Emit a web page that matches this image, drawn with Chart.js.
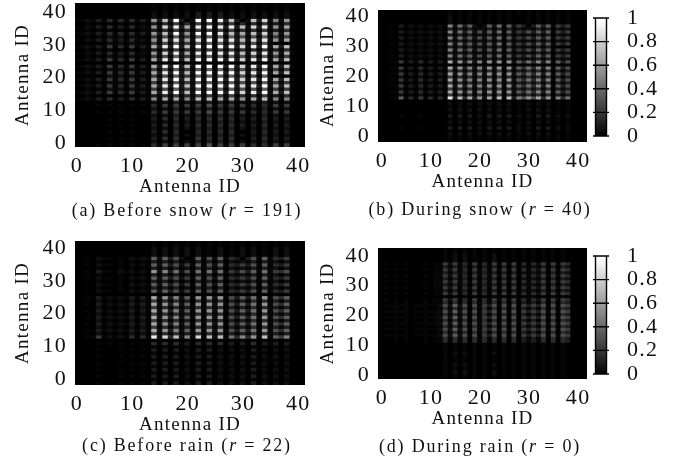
<!DOCTYPE html>
<html>
<head>
  <title>Antenna correlation heatmaps</title>
  <style>
    body {
      margin: 0;
      background: #ffffff;
    }
    canvas {
      position: absolute;
    }
    canvas.heat {
      filter: blur(0.4px);
    }
    .caption {
      position: absolute;
      transform: translate(-50%, -50%);
      white-space: nowrap;
      font-family: "Liberation Serif", serif;
      font-size: 18px;
      letter-spacing: 1.8px;
      color: #111111;
    }
  </style>
</head>
<body>
  <canvas id="panelA" class="heat"></canvas>
  <canvas id="panelB" class="heat"></canvas>
  <canvas id="panelC" class="heat"></canvas>
  <canvas id="panelD" class="heat"></canvas>
  <canvas id="barB"></canvas>
  <canvas id="barD"></canvas>
  <div class="caption" style="left:187px;top:210px">(a) Before snow (<i>r</i> = 191)</div>
  <div class="caption" style="left:480px;top:209px">(b) During snow (<i>r</i> = 40)</div>
  <div class="caption" style="left:187px;top:445px">(c) Before rain (<i>r</i> = 22)</div>
  <div class="caption" style="left:480px;top:446px">(d) During rain (<i>r</i> = 0)</div>

  <script src="https://cdn.jsdelivr.net/npm/chart.js"></script>
  <script>
    // Each string is one row of cells, one hex digit per antenna column, read through cellLevels
    const cellLevels = [0, 0.025, 0.06, 0.11, 0.17, 0.23, 0.3, 0.37, 0.44, 0.51, 0.58, 0.66, 0.74, 0.83, 0.92, 1];

    const aBlack = "000000000000001010101010101010101010101000";
    const aTop = "000000000000002020202030303020202020202000";
    const aB0 = "11213151415131b3e3f3c2f2f1f3f3d2e3f2b3c100";
    const aB1 = "11213141414131a3c3f3a2f2f1e3c3b2c3d292a100";
    const aB1n = "11213141414131a3c3f302f2f1e3c302c3d292a100";
    const aB2 = "10213141314121a2d3e3b2e2f1e3e3c2d3e2a2b100";
    const aB3 = "1121314131413191b2b292c2c1b2b2a1b2c1919100";
    const aD0 = "001010212021105161725171717172616171515000";
    const aD1 = "001010101010103141514151515151414151314000";
    const aD2 = "000000212021105161725171717172616171000000";
    const aL0 = "000010101010104151515151615151514141515000";
    const aL1 = "000000000000002020302030303030202030202000";
    const aL2 = "000000101010003040403040404040303040303000";
    const aL3 = "000000101010003040400040404040003040303000";
    const rowsBeforeSnow = [
      aBlack, aBlack, aBlack, aTop, aTop, aB1n, aD1, aB2, aD1, aB1, aD0,
      aB2, aD2, aB0, aD1, aB2, aD0, aB0, aBlack, aB0, aD0, aB0,
      aD2, aB0, aD0, aB0, aD0, aB0, aD1, aB3, aL1, aL0, aL1,
      aL0, aL1, aL2, aL1, aL2, aL1, aL3, aL1, aL3, aL1, aL0
    ];

    const bFaint = "000000000000001010101010101010101010101000";
    const bTop = "000000000000002010101010101000101010101000";
    const bB0 = "00117141514141e3c4b3a2b2c1c396a6b4a1948000";
    const bB1 = "00115131413131b2a39292a2a1a274849391736000";
    const bB2 = "001031212121219283726272817253637371535000";
    const bB2n = "001031212121219283720272817253037371535000";
    const bD0 = "000020102010105141414141504132424140313000";
    const bD1 = "000010101010103131312131303121213130212000";
    const bD2 = "000010101010103131312131303121213130000000";
    const bL0 = "000000000000002020202020202010202020101000";
    const bL2 = "000010001000003030302030303020203030202000";
    const rowsDuringSnow = [
      bFaint, bFaint, bTop, bTop, bTop, bB2n, bD1, bB2, bD1, bB2, bD1,
      bB2, bD2, bB2, bD1, bB2, bD1, bB1, bFaint, bB1, bD0, bB1,
      bD0, bB1, bD0, bB1, bD0, bB1, bD0, bB0, bFaint, bL0, bFaint,
      bL0, bFaint, bL2, bFaint, bL0, bFaint, bL2, bFaint, bL0, bFaint, bFaint
    ];

    const cFaint = "000000000000001010101010101010101010101000";
    const cTop = "000000000000002020202020102010202010202000";
    const cB0 = "00115121214141e2d4c291d1c2c18494a1c1759000";
    const cB1 = "00103121213131b2a39271a1a2a1637381a1647000";
    const cB2 = "001021101021217273625171627143536171435000";
    const cB2n = "001021101021217273620171627143036171435000";
    const cB3 = "00103110212121a293826181828153637181546000";
    const cD0 = "000020101020205141413041414031314041313000";
    const cD1 = "000010001010103131302031303021213031202000";
    const cL0 = "000010001010103030302030302020203020202000";
    const cL2 = "000010101010104141413041404030304031303000";
    const rowsBeforeRain = [
      cFaint, cFaint, cTop, cTop, cTop, cB2n, cD1, cB2, cD1, cB3, cD1,
      cB2, cD1, cB2, cD1, cB2, cFaint, cB1, cD0, cB1, cD0, cB1,
      cD0, cB1, cD0, cB1, cD0, cB1, cD0, cB0, cFaint, cL2, cFaint,
      cL0, cFaint, cL0, cFaint, cL0, cFaint, cL0, cFaint, cL0, cFaint, cL0
    ];

    const dFaint = "000000000000010101010101010101010101010000";
    const dL2 = "000000000000010202010102010101010101010000";
    const dB0 = "011111011111262726161536161605353616165000";
    const dB1 = "010101000101152514151415151504142515154000";
    const dD0 = "000101000101141414041414040403131404043000";
    const dD1 = "000000000001131313031313030302121303032000";
    const rowsDuringRain = [
      dFaint, dFaint, dL2, dL2, dL2, dB1, dD1, dB1, dD1, dB1, dD1,
      dB1, dD1, dB1, dD1, dB1, dFaint, dB1, dD0, dB0, dD0, dB0,
      dD0, dB0, dD0, dB0, dD0, dB0, dD0, dB0, dD0, dD0, dFaint,
      dFaint, dFaint, dL2, dFaint, dFaint, dFaint, dL2, dFaint, dL2, dL2, dFaint
    ];

    const colorbarLevels = [
      0, 0.02, 0.04, 0.06, 0.08, 0.1, 0.12, 0.14, 0.16, 0.18,
      0.2, 0.22, 0.24, 0.26, 0.28, 0.3, 0.32, 0.34, 0.36, 0.38,
      0.4, 0.42, 0.44, 0.46, 0.48, 0.5, 0.52, 0.54, 0.56, 0.58,
      0.6, 0.62, 0.64, 0.66, 0.68, 0.7, 0.72, 0.74, 0.76, 0.78,
      0.8, 0.82, 0.84, 0.86, 0.88, 0.9, 0.92, 0.94, 0.96, 0.98, 1
    ];

    const AXIS_TITLE = 'Antenna ID';
    const TICK_FONT = { family: '"Liberation Serif", serif', size: 22 };
    const TITLE_FONT = { family: '"Liberation Serif", serif', size: 19 };
    const INK = '#111111';
    const BAR_WIDTH = 11;

    function grey(level) {
      const g = Math.round(level * 255);
      return 'rgb(' + g + ',' + g + ',' + g + ')';
    }

    function place(id, left, top, width, height) {
      const canvas = document.getElementById(id);
      canvas.style.left = left + 'px';
      canvas.style.top = top + 'px';
      canvas.width = width;
      canvas.height = height;
      return canvas.getContext('2d');
    }

    // fixes the axis box so the plot area lands where the reference has it
    function fitAxis(size) {
      return function (scale) {
        if (scale.isHorizontal()) {
          scale.height = size;
        } else {
          scale.width = size;
        }
        scale.paddingTop = 0;
        scale.paddingBottom = 0;
        scale.paddingLeft = 0;
        scale.paddingRight = 0;
      };
    }

    const blackBehind = {
      id: 'blackBehind',
      beforeDatasetsDraw(chart) {
        const a = chart.chartArea;
        chart.ctx.fillStyle = '#000000';
        chart.ctx.fillRect(a.left, a.top, a.right - a.left, a.bottom - a.top);
      }
    };

    // Chart.js resets the context when it sizes the canvas, so spacing goes on here
    const wideLetters = {
      id: 'wideLetters',
      beforeDraw(chart) {
        chart.ctx.letterSpacing = '1.3px';
      }
    };

    // tick lines across the colorbar and its two side edges
    const barOutline = {
      id: 'barOutline',
      afterDatasetsDraw(chart) {
        const ctx = chart.ctx;
        const a = chart.chartArea;
        const mid = chart.scales.x.getPixelForValue(0.5);
        ctx.save();
        ctx.strokeStyle = '#000000';
        ctx.lineWidth = 1.4;
        ctx.beginPath();
        chart.scales.y.ticks.forEach(tick => {
          const y = chart.scales.y.getPixelForValue(tick.value);
          ctx.moveTo(a.left, y);
          ctx.lineTo(a.right, y);
        });
        ctx.moveTo(mid - BAR_WIDTH / 2, a.top);
        ctx.lineTo(mid - BAR_WIDTH / 2, a.bottom);
        ctx.moveTo(mid + BAR_WIDTH / 2, a.top);
        ctx.lineTo(mid + BAR_WIDTH / 2, a.bottom);
        ctx.stroke();
        ctx.restore();
      }
    };

    function heatmap(id, rows, box) {
      const ctx = place(id, box.left, box.top, box.width, box.height);
      const cells = [];
      const colors = [];
      rows.forEach((row, k) => {
        const lower = box.yMin + rows.length - 1 - k;
        for (let c = 0; c < row.length; c++) {
          cells.push({ x: c, y: [lower, lower + 1] });
          colors.push(grey(cellLevels[parseInt(row[c], 16)]));
        }
      });
      new Chart(ctx, {
        type: 'bar',
        data: {
          datasets: [{
            data: cells,
            backgroundColor: colors,
            barPercentage: 1,
            categoryPercentage: 1,
            borderWidth: 0,
            inflateAmount: 0.5
          }]
        },
        plugins: [blackBehind, wideLetters],
        options: {
          responsive: false,
          animation: false,
          layout: { padding: { top: box.padTop, right: box.padRight, left: 0, bottom: 0 } },
          plugins: { legend: { display: false }, tooltip: { enabled: false } },
          scales: {
            x: {
              type: 'linear',
              offset: false,
              min: box.xMin,
              max: box.xMax,
              grid: { display: false, drawTicks: false },
              border: { display: false },
              afterFit: fitAxis(53),
              ticks: { stepSize: 10, includeBounds: false, maxRotation: 0, padding: 6, color: INK, font: TICK_FONT },
              title: { display: true, text: AXIS_TITLE, color: INK, font: TITLE_FONT, padding: { top: 0, bottom: 2 } }
            },
            y: {
              min: box.yMin,
              max: box.yMin + rows.length,
              grid: { display: false, drawTicks: false },
              border: { display: false },
              afterFit: fitAxis(box.axisWidth),
              ticks: { stepSize: 10, includeBounds: false, padding: 8, color: INK, font: TICK_FONT },
              title: { display: true, text: AXIS_TITLE, color: INK, font: TITLE_FONT, padding: { top: 12, bottom: 0 } }
            }
          }
        }
      });
    }

    function colorbar(id, left, top) {
      const ctx = place(id, left, top, 96, 160);
      const bands = colorbarLevels.slice(1).map((level, i) => ({
        x: 0.5,
        y: [colorbarLevels[i], level]
      }));
      new Chart(ctx, {
        type: 'bar',
        data: {
          datasets: [{
            data: bands,
            backgroundColor: colorbarLevels.slice(1).map(grey),
            borderWidth: 0,
            inflateAmount: 0.5,
            barThickness: BAR_WIDTH
          }]
        },
        plugins: [wideLetters, barOutline],
        options: {
          responsive: false,
          animation: false,
          layout: { padding: { top: 18, bottom: 24, left: 8, right: 0 } },
          plugins: { legend: { display: false }, tooltip: { enabled: false } },
          scales: {
            x: { type: 'linear', display: false, offset: false, min: 0, max: 1 },
            y: {
              position: 'right',
              min: 0,
              max: 1,
              grid: { display: false, drawTicks: false },
              border: { display: false },
              afterFit: fitAxis(72),
              ticks: {
                stepSize: 0.2,
                autoSkip: false,
                padding: 18,
                color: INK,
                font: TICK_FONT,
                callback: value => String(Number(value.toFixed(1)))
              }
            }
          }
        }
      });
    }

    heatmap('panelA', rowsBeforeSnow, { left: 0, top: 0, width: 340, height: 200, padTop: 3, padRight: 35, axisWidth: 75, xMin: -0.36, xMax: 41.2, yMin: -1.2 });
    heatmap('panelB', rowsDuringSnow, { left: 305, top: 0, width: 295, height: 195, padTop: 10, padRight: 13, axisWidth: 73, xMin: -0.8, xMax: 41.8, yMin: -2 });
    heatmap('panelC', rowsBeforeRain, { left: 0, top: 238, width: 340, height: 200, padTop: 3, padRight: 35, axisWidth: 75, xMin: -0.36, xMax: 41.2, yMin: -1.85 });
    heatmap('panelD', rowsDuringRain, { left: 305, top: 238, width: 295, height: 194, padTop: 10, padRight: 13, axisWidth: 73, xMin: -0.8, xMax: 41.8, yMin: -1.34 });
    colorbar('barB', 585, 0);
    colorbar('barD', 585, 238);
  </script>
</body>
</html>
